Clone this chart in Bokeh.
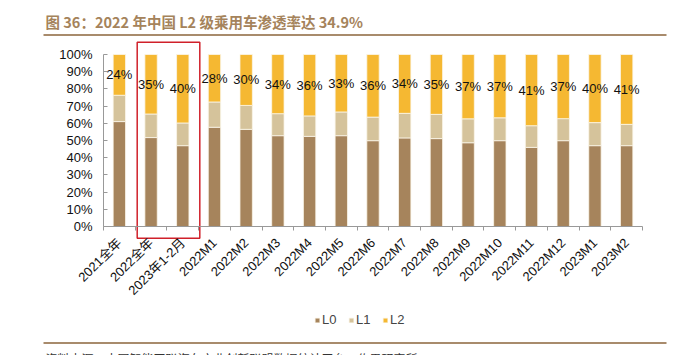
import numpy as np
from bokeh.plotting import figure
from bokeh.models import (FixedTicker, PrintfTickFormatter, Range1d,
                          Legend, LegendItem, ColumnDataSource)
from bokeh.core.properties import value
from bokeh.embed import file_html
from bokeh.resources import INLINE

# ---------------- data ----------------
categories = ["2021全年", "2022全年", "2023年1-2月", "2022M1", "2022M2", "2022M3",
              "2022M4", "2022M5", "2022M6", "2022M7", "2022M8", "2022M9",
              "2022M10", "2022M11", "2022M12", "2023M1", "2023M2"]
L0 = [61.0, 51.7, 47.0, 57.7, 56.5, 52.8, 52.4, 52.8, 49.9, 51.5, 51.1, 48.7, 49.9, 46.0, 49.9, 47.0, 47.0]
L1 = [15.3, 13.7, 13.2, 14.7, 13.9, 12.8, 11.9, 13.8, 13.7, 14.3, 14.1, 13.9, 13.3, 12.6, 12.8, 13.4, 12.4]
L2 = [23.7, 34.6, 39.8, 27.6, 29.6, 34.4, 35.7, 33.4, 36.4, 34.2, 34.8, 37.4, 36.8, 41.4, 37.3, 39.6, 40.6]
series_names = ["L0", "L1", "L2"]
y_ticks = list(range(0, 101, 10))
title_text = "图 36：2022 年中国 L2 级乘用车渗透率达 34.9%"
source_text = "资料来源：中国智能网联汽车产业创新联盟数据统计平台，佐思研究所"

colors = ["#A6845C", "#D5C39B", "#F5B832"]

# ---------------- geometry helpers (pixel layout of the plotting area) ----------------
W, H = 681, 355
FL, FR, FT, FB = 103, 642, 54, 226
n = len(categories)
x_lo, x_hi = -0.5, n - 0.5


def px2x(px):
    return x_lo + (px - FL) * (x_hi - x_lo) / (FR - FL)


def py2y(py):
    return (FB - py) * 100.0 / (FB - FT)


idx = np.arange(n)
src = ColumnDataSource(dict(
    x=idx, L0=L0, L1=L1, L2=L2,
    ymid=np.array(L0) + np.array(L1) + np.array(L2) / 2.0,
    lab=[f"{round(v)}%" for v in L2],
))

# the frame spans the whole canvas; axes are pinned at fixed locations
p = figure(width=W, height=H, output_backend="svg", toolbar_location=None,
           x_range=Range1d(px2x(0), px2x(W)), y_range=Range1d(py2y(H), py2y(0)),
           min_border=0, min_border_left=0, min_border_right=0,
           min_border_top=0, min_border_bottom=0)
p.outline_line_color = None
p.xgrid.visible = False
p.ygrid.visible = False
p.background_fill_color = "white"
p.border_fill_color = "white"

renderers = p.vbar_stack(series_names, x="x", width=0.39, color=colors, source=src,
                         line_color="#FBF6EA", line_width=0.8)

p.text(x="x", y="ymid", text="lab", source=src, text_align="center",
       text_baseline="middle", text_font=value("Liberation Sans"),
       text_font_size="13px", text_color="#111111")

# axes
ax = p.xaxis[0]
ax.fixed_location = 0
ax.bounds = (x_lo, x_hi)
ax.ticker = FixedTicker(ticks=list(idx), minor_ticks=[i + 0.5 for i in range(-1, n)])
ax.major_label_overrides = {int(i): c for i, c in zip(idx, categories)}
ax.major_label_orientation = np.pi / 4
ax.major_tick_in = 0
ax.major_tick_out = 0
ax.minor_tick_in = 0
ax.minor_tick_out = 4
ax.minor_tick_line_color = "#999999"
ax.axis_line_color = "#999999"
ax.major_label_text_font = "Liberation Sans, Noto Sans CJK SC"
ax.major_label_text_font_size = "13px"
ax.major_label_text_color = "#111111"
ax.major_label_standoff = 10

ay = p.yaxis[0]
ay.fixed_location = x_lo
ay.bounds = (0, 100)
ay.ticker = FixedTicker(ticks=y_ticks, minor_ticks=[])
ay.formatter = PrintfTickFormatter(format="%d%%")
ay.major_tick_in = 4
ay.major_tick_out = 0
ay.minor_tick_in = 0
ay.minor_tick_out = 0
ay.major_tick_line_color = "#999999"
ay.axis_line_color = "#999999"
ay.major_label_text_font = "Liberation Sans"
ay.major_label_text_font_size = "13px"
ay.major_label_text_color = "#111111"
ay.major_label_standoff = 11

# red highlight box around the two summary bars
p.quad(left=[px2x(136.7)], right=[px2x(199.3)], top=[py2y(41.7)], bottom=[py2y(237.7)],
       fill_alpha=0, line_color="#D0202A", line_width=1.5)

# title and rules
p.text(x=[px2x(45)], y=[py2y(21)], text=[title_text], text_baseline="middle",
       text_font=value("Noto Sans CJK SC"), text_font_style="bold",
       text_font_size="14.5px", text_color="#A5835B")
p.quad(left=[px2x(43), px2x(43)], right=[px2x(666), px2x(666)],
       top=[py2y(33.5), py2y(341.5)], bottom=[py2y(35.5), py2y(343.5)],
       fill_color="#A88B6C", line_alpha=0)
p.text(x=[px2x(45)], y=[py2y(349)], text=[source_text], text_baseline="top",
       text_font=value("Noto Sans CJK SC"), text_font_size="12px", text_color="#333333")

# legend
legend = Legend(items=[LegendItem(label=nm, renderers=[r]) for nm, r in zip(series_names, renderers)],
                location=(314, 28), orientation="horizontal", glyph_width=6, glyph_height=6,
                label_text_font="Liberation Sans", label_text_font_size="13px",
                label_standoff=2, spacing=6, padding=0, margin=0, label_height=14,
                border_line_alpha=0, background_fill_alpha=0)
p.add_layout(legend)

open("out.html", "w").write(file_html(p, INLINE))
